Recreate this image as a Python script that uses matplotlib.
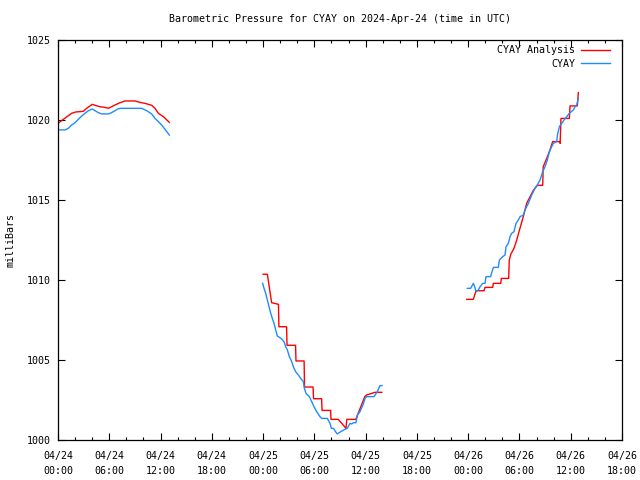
import numpy as np
import matplotlib
matplotlib.use("Agg")
import matplotlib.pyplot as plt
from matplotlib.ticker import MultipleLocator

# ---------------- data (hours after 2024-04-24 00:00 UTC, millibars) ----------------
# CYAY Analysis (red) – three segments
ana_h1 = [0.0, 0.62, 1.21, 1.60, 2.07, 2.96, 3.35, 3.75, 4.02, 4.33, 4.92, 5.50, 5.89, 6.28,
          6.67, 7.26, 7.84, 9.01, 9.60, 10.18, 10.96, 11.35, 11.74, 12.33, 13.03]
ana_v1 = [1019.79, 1020.04, 1020.27, 1020.42, 1020.50, 1020.54, 1020.73, 1020.88, 1020.98,
          1020.92, 1020.83, 1020.79, 1020.73, 1020.83, 1020.94, 1021.08, 1021.19, 1021.19,
          1021.10, 1021.04, 1020.92, 1020.73, 1020.42, 1020.21, 1019.85]

ana_h2 = [24.0, 24.5, 25.0, 25.8, 25.85, 26.75, 26.8, 27.8, 27.85, 28.8, 28.85, 29.85, 29.9,
          30.85, 30.9, 31.9, 31.95, 32.8, 33.7, 33.8, 34.85, 35.9, 36.1, 37.1, 37.9]
ana_v2 = [1010.36, 1010.36, 1008.58, 1008.48, 1007.08, 1007.08, 1005.92, 1005.92, 1004.94,
          1004.94, 1003.31, 1003.31, 1002.58, 1002.58, 1001.85, 1001.85, 1001.29, 1001.29,
          1000.73, 1001.29, 1001.29, 1002.71, 1002.81, 1002.98, 1002.98]

ana_h3 = [47.83, 48.60, 48.92, 49.85, 49.97, 50.87, 50.94, 51.81, 51.88, 52.74, 52.81, 52.98,
          53.36, 53.68, 53.99, 54.45, 54.85, 55.62, 56.09, 56.72, 56.78, 57.11, 57.50, 57.89,
          58.74, 58.76, 58.86, 59.84, 59.92, 60.77, 60.89]
ana_v3 = [1008.79, 1008.79, 1009.33, 1009.33, 1009.54, 1009.54, 1009.79, 1009.79, 1010.10,
          1010.10, 1011.25, 1011.60, 1011.98, 1012.50, 1013.10, 1013.96, 1014.80, 1015.60,
          1015.92, 1015.92, 1017.08, 1017.50, 1018.02, 1018.65, 1018.65, 1018.54, 1020.10,
          1020.10, 1020.88, 1020.88, 1021.71]

# CYAY observations (blue) – three segments
obs_h1 = [0.0, 0.82, 1.21, 1.60, 1.99, 2.38, 2.77, 3.16, 3.55, 4.02, 4.33, 4.72, 5.11, 5.89,
          6.28, 6.67, 7.06, 7.45, 9.79, 10.38, 10.96, 11.35, 11.74, 12.13, 12.52, 13.03]
obs_v1 = [1019.38, 1019.38, 1019.48, 1019.69, 1019.83, 1020.04, 1020.25, 1020.42, 1020.58,
          1020.69, 1020.58, 1020.46, 1020.38, 1020.38, 1020.46, 1020.58, 1020.71, 1020.73,
          1020.73, 1020.58, 1020.38, 1020.10, 1019.90, 1019.69, 1019.42, 1019.06]

obs_h2 = [23.95, 24.11, 24.30, 24.50, 24.69, 24.89, 25.08, 25.28, 25.47, 25.67, 25.90, 26.18,
          26.45, 26.64, 26.84, 27.07, 27.35, 27.54, 27.81, 28.13, 28.40, 28.71, 28.83, 29.02,
          29.41, 29.69, 29.96, 30.27, 30.66, 30.86, 31.52, 31.83, 31.99, 32.22, 32.61, 32.69,
          33.08, 33.59, 33.86, 34.17, 34.37, 34.56, 34.87, 35.03, 35.34, 35.73, 35.93, 36.12,
          36.98, 37.37, 37.68, 37.92]
obs_v2 = [1009.79, 1009.48, 1009.17, 1008.75, 1008.33, 1007.92, 1007.60, 1007.29, 1006.88,
          1006.50, 1006.42, 1006.31, 1006.15, 1005.83, 1005.63, 1005.21, 1004.90, 1004.58,
          1004.27, 1004.06, 1003.85, 1003.65, 1003.23, 1002.92, 1002.71, 1002.40, 1002.08,
          1001.77, 1001.46, 1001.35, 1001.35, 1001.04, 1000.73, 1000.73, 1000.42, 1000.38,
          1000.52, 1000.67, 1000.73, 1001.04, 1001.00, 1001.08, 1001.08, 1001.56, 1001.77,
          1002.25, 1002.60, 1002.71, 1002.71, 1003.02, 1003.40, 1003.40]

obs_h3 = [47.90, 48.29, 48.61, 48.76, 48.92, 49.19, 49.39, 49.70, 49.97, 50.09, 50.63, 50.75,
          50.95, 51.53, 51.65, 52.04, 52.31, 52.43, 52.70, 52.90, 53.09, 53.36, 53.60, 53.87,
          54.07, 54.46, 54.65, 55.04, 55.43, 55.82, 56.09, 56.41, 56.72, 56.99, 57.26, 57.50,
          57.77, 57.97, 58.36, 58.44, 58.67, 58.94, 59.22, 59.53, 59.84, 60.31, 60.50, 60.70,
          60.89]
obs_v3 = [1009.48, 1009.48, 1009.79, 1009.58, 1009.27, 1009.38, 1009.58, 1009.79, 1009.79,
          1010.21, 1010.21, 1010.46, 1010.79, 1010.79, 1011.25, 1011.46, 1011.56, 1012.08,
          1012.29, 1012.71, 1012.92, 1013.02, 1013.54, 1013.75, 1013.96, 1014.06, 1014.38,
          1014.79, 1015.31, 1015.73, 1015.94, 1016.25, 1016.77, 1017.08, 1017.50, 1018.02,
          1018.33, 1018.54, 1018.65, 1019.06, 1019.58, 1019.79, 1020.00, 1020.21, 1020.42,
          1020.63, 1020.83, 1020.94, 1021.35]

x_tick_hours = [0, 6, 12, 18, 24, 30, 36, 42, 48, 54, 60, 66]
x_tick_labels = ["04/24\n00:00", "04/24\n06:00", "04/24\n12:00", "04/24\n18:00",
                 "04/25\n00:00", "04/25\n06:00", "04/25\n12:00", "04/25\n18:00",
                 "04/26\n00:00", "04/26\n06:00", "04/26\n12:00", "04/26\n18:00"]
y_ticks = [1000, 1005, 1010, 1015, 1020, 1025]

title = "Barometric Pressure for CYAY on 2024-Apr-24 (time in UTC)"
ylabel = "milliBars"
label_ana = "CYAY Analysis"
label_obs = "CYAY"

# ---------------- plotting ----------------
plt.rcParams["font.family"] = ["DejaVu Sans Mono"]
FS = 7.2

def join(*segs):
    xs, ys = [], []
    for h, v in segs:
        xs += list(h) + [np.nan]
        ys += list(v) + [np.nan]
    return np.array(xs), np.array(ys)

ax_h, ax_v = join((ana_h1, ana_v1), (ana_h2, ana_v2), (ana_h3, ana_v3))
ob_h, ob_v = join((obs_h1, obs_v1), (obs_h2, obs_v2), (obs_h3, obs_v3))

fig = plt.figure(figsize=(6.4, 4.8), dpi=100)
ax = fig.add_axes([58 / 640, 40 / 480, 564 / 640, 400 / 480])

ax.plot(ax_h, ax_v, color="#ff0000", lw=1.0, label=label_ana)
ax.plot(ob_h, ob_v, color="#1e8cff", lw=1.0, label=label_obs)

ax.set_xlim(0, 66)
ax.set_ylim(1000, 1025)
ax.set_xticks(x_tick_hours)
ax.set_xticklabels(x_tick_labels, fontsize=FS)
ax.xaxis.set_minor_locator(MultipleLocator(2))
ax.set_yticks(y_ticks)
ax.set_yticklabels([str(t) for t in y_ticks], fontsize=FS)
for lbl in ax.get_xticklabels():
    lbl.set_linespacing(1.6)

ax.tick_params(axis="both", which="major", direction="in", length=5, width=0.8,
               top=True, right=True, pad=5)
ax.tick_params(axis="x", which="minor", direction="in", length=2.5, width=0.8,
               top=True, bottom=True)
ax.tick_params(axis="x", which="major", pad=8)
for s in ax.spines.values():
    s.set_linewidth(0.9)

fig.text(340 / 640, 1 - 19 / 480, title, ha="center", va="center", fontsize=FS)
fig.text(11 / 640, 0.5, ylabel, rotation=90, ha="center", va="center", fontsize=FS)

leg = ax.legend(loc="upper right", bbox_to_anchor=(610 / 640, 1 - 45 / 480),
                bbox_transform=fig.transFigure, frameon=False, markerfirst=False,
                fontsize=FS, handlelength=2.9, handletextpad=0.6, labelspacing=0.38,
                borderpad=0, borderaxespad=0)

fig.savefig("out.png", dpi=100)
